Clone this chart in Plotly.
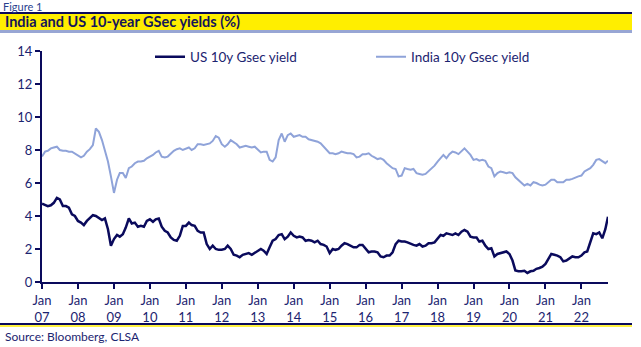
import pandas as pd
import plotly.graph_objects as go

# Monthly values (first of month), Jan 2007 .. Sep 2022, plus last reading
us_10y = [
    4.75, 4.65, 4.6, 4.65, 4.8, 5.1, 5.0, 4.6, 4.6, 4.5, 4.1, 4.0,      # 2007
    3.7, 3.6, 3.45, 3.7, 3.9, 4.05, 4.0, 3.85, 3.75, 3.85, 3.2, 2.2,    # 2008
    2.6, 2.85, 2.75, 2.9, 3.3, 3.85, 3.55, 3.6, 3.35, 3.4, 3.35, 3.7,   # 2009
    3.8, 3.65, 3.8, 3.85, 3.35, 3.1, 3.0, 2.7, 2.55, 2.5, 2.8, 3.4,     # 2010
    3.4, 3.6, 3.45, 3.4, 3.1, 3.0, 3.0, 2.3, 2.0, 2.2, 2.0, 1.95,       # 2011
    1.95, 2.0, 2.2, 2.0, 1.65, 1.6, 1.5, 1.65, 1.7, 1.75, 1.65, 1.75,   # 2012
    1.9, 2.0, 1.9, 1.7, 2.1, 2.5, 2.6, 2.85, 2.9, 2.6, 2.75, 3.0,       # 2013
    2.8, 2.7, 2.75, 2.7, 2.5, 2.55, 2.5, 2.4, 2.5, 2.3, 2.25, 2.15,     # 2014
    1.75, 2.0, 1.95, 2.0, 2.2, 2.35, 2.3, 2.2, 2.1, 2.1, 2.25, 2.25,    # 2015
    2.0, 1.8, 1.85, 1.85, 1.8, 1.55, 1.5, 1.6, 1.6, 1.8, 2.3, 2.5,      # 2016
    2.45, 2.45, 2.4, 2.3, 2.25, 2.2, 2.3, 2.15, 2.2, 2.35, 2.35, 2.4,   # 2017
    2.65, 2.85, 2.8, 2.95, 2.9, 2.85, 2.95, 2.85, 3.05, 3.15, 3.05, 2.75,  # 2018
    2.7, 2.7, 2.45, 2.5, 2.2, 2.0, 2.05, 1.55, 1.7, 1.75, 1.8, 1.85,    # 2019
    1.7, 1.3, 0.7, 0.65, 0.65, 0.68, 0.55, 0.65, 0.68, 0.8, 0.85, 0.93, # 2020
    1.1, 1.4, 1.7, 1.65, 1.6, 1.5, 1.25, 1.3, 1.45, 1.55, 1.5, 1.5,     # 2021
    1.6, 1.8, 1.85, 2.4, 2.95, 2.9, 3.0, 2.65, 3.2,                     # 2022
    3.95,
]
india_10y = [
    7.6, 7.9, 7.95, 8.1, 8.15, 8.2, 8.0, 7.95, 7.95, 7.9, 7.9, 7.8,     # 2007
    7.65, 7.55, 7.65, 7.9, 8.05, 8.3, 9.3, 9.1, 8.6, 7.9, 7.3, 6.4,     # 2008
    5.4, 6.2, 6.6, 6.6, 6.3, 6.9, 7.0, 7.2, 7.3, 7.3, 7.35, 7.5,        # 2009
    7.6, 7.7, 7.85, 7.95, 7.6, 7.55, 7.6, 7.8, 7.95, 8.05, 8.1, 8.0,    # 2010
    8.1, 8.15, 8.0, 8.1, 8.35, 8.35, 8.3, 8.35, 8.4, 8.55, 8.85, 8.75,  # 2011
    8.35, 8.2, 8.35, 8.6, 8.5, 8.35, 8.15, 8.2, 8.25, 8.2, 8.15, 8.2,   # 2012
    8.0, 7.85, 7.9, 7.9, 7.4, 7.3, 7.55, 8.6, 9.0, 8.5, 8.9, 9.0,       # 2013
    8.8, 8.85, 8.9, 8.8, 8.8, 8.65, 8.6, 8.55, 8.5, 8.4, 8.2, 8.0,      # 2014
    7.8, 7.8, 7.75, 7.8, 7.9, 7.85, 7.8, 7.8, 7.75, 7.55, 7.6, 7.75,    # 2015
    7.75, 7.8, 7.65, 7.55, 7.45, 7.5, 7.4, 7.2, 7.05, 6.9, 6.85, 6.4,   # 2016
    6.45, 6.9, 6.85, 6.8, 6.85, 6.6, 6.55, 6.5, 6.55, 6.7, 6.85, 7.05,  # 2017
    7.3, 7.5, 7.7, 7.5, 7.75, 7.9, 7.85, 7.75, 7.9, 8.1, 7.9, 7.7,      # 2018
    7.4, 7.45, 7.35, 7.4, 7.35, 7.0, 6.9, 6.4, 6.6, 6.7, 6.65, 6.6,     # 2019
    6.65, 6.6, 6.35, 6.2, 6.0, 5.85, 5.95, 5.85, 6.05, 6.0, 5.9, 5.85,  # 2020
    5.9, 6.05, 6.2, 6.2, 6.05, 6.05, 6.05, 6.2, 6.2, 6.25, 6.35, 6.4,   # 2021
    6.45, 6.7, 6.8, 6.9, 7.1, 7.4, 7.45, 7.3, 7.2,                      # 2022
    7.35,
]
dates = list(pd.date_range("2007-01-01", "2022-09-01", freq="MS")) + [pd.Timestamp("2022-09-28")]

years = list(range(2007, 2023))
tick_vals = [f"{y}-01-01" for y in years]
tick_text = [f"Jan<br>{str(y)[2:]}" for y in years]

NAVY = "#0a0a5c"
TXT = "#1c2470"
LIGHT = "#8fa3d9"

fig = go.Figure()
fig.add_trace(go.Scatter(x=dates, y=us_10y, mode="lines", name="US 10y Gsec yield",
                         line=dict(color=NAVY, width=2.5)))
fig.add_trace(go.Scatter(x=dates, y=india_10y, mode="lines", name="India 10y Gsec yield",
                         line=dict(color=LIGHT, width=2)))

L, R, T, B = 42, 608, 51, 282
W, H = 641, 347
def px(x):
    return (x - L) / (R - L)
def py(y):
    return (B - y) / (B - T)

shapes = [
    dict(type="rect", xref="paper", yref="paper", x0=px(0), x1=px(632), y0=py(30), y1=py(14),
         fillcolor="#ffee00", line=dict(width=0), layer="below"),
    dict(type="line", xref="paper", yref="paper", x0=px(0), x1=px(632), y0=py(13), y1=py(13),
         line=dict(color=NAVY, width=2)),
    dict(type="line", xref="paper", yref="paper", x0=px(0), x1=px(632), y0=py(31.5), y1=py(31.5),
         line=dict(color="#98a6d4", width=3)),
    dict(type="line", xref="paper", yref="paper", x0=px(0), x1=px(632), y0=py(324), y1=py(324),
         line=dict(color=NAVY, width=2)),
    dict(type="line", xref="paper", yref="paper", x0=px(0), x1=px(632), y0=py(326), y1=py(326),
         line=dict(color="#ffee00", width=1.5)),
]
annotations = [
    dict(text="Figure 1", xref="paper", yref="paper", x=px(1), y=py(6), xanchor="left", yanchor="middle",
         showarrow=False, font=dict(family="Lato", size=11, color="#2a3f8f")),
    dict(text="<b>India and US 10-year GSec yields (%)</b>", xref="paper", yref="paper", x=px(3), y=py(22),
         xanchor="left", yanchor="middle", showarrow=False, font=dict(family="Lato", size=14.5, color="#14145a")),
    dict(text="Source: Bloomberg, CLSA", xref="paper", yref="paper", x=px(3), y=py(336),
         xanchor="left", yanchor="middle", showarrow=False, font=dict(family="Lato", size=12, color=TXT)),
]

fig.update_layout(
    width=W, height=H,
    margin=dict(l=L, r=W - R, t=T, b=H - B),
    paper_bgcolor="white", plot_bgcolor="white",
    font=dict(family="Lato", size=13, color=TXT),
    showlegend=True,
    legend=dict(orientation="h", x=px(150), y=py(57), xanchor="left", yanchor="middle",
                font=dict(family="Lato", size=13.5, color=TXT), itemwidth=30,
                bgcolor="rgba(0,0,0,0)", tracegroupgap=0, entrywidth=176),
    shapes=shapes, annotations=annotations,
    xaxis=dict(type="date", range=["2007-01-01", "2022-09-28"], tickvals=tick_vals, ticktext=tick_text,
               showgrid=False, zeroline=False, showline=True, linecolor=NAVY, linewidth=2,
               ticks="outside", ticklen=5, tickwidth=1.5, tickcolor=NAVY,
               tickfont=dict(family="Lato", size=13, color=TXT)),
    yaxis=dict(range=[0, 14], tickvals=list(range(0, 15, 2)), showgrid=False, zeroline=False,
               showline=True, linecolor=NAVY, linewidth=2, ticks="outside", ticklen=5, tickwidth=1.5,
               tickcolor=NAVY, tickfont=dict(family="Lato", size=13, color=TXT)),
)

fig.write_html("out.html")
